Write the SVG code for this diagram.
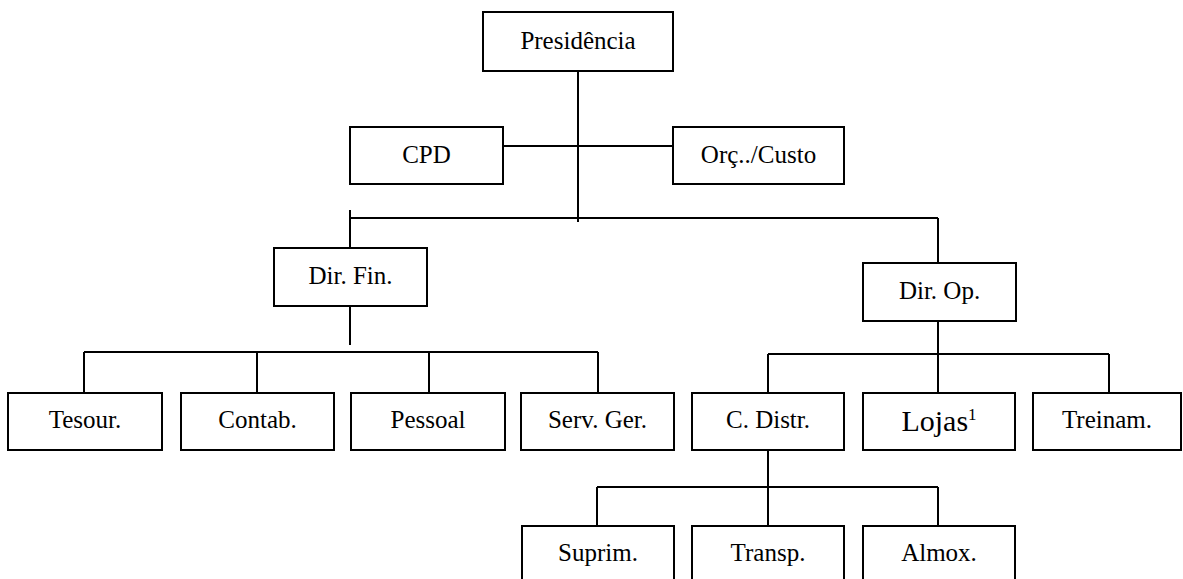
<svg xmlns="http://www.w3.org/2000/svg" width="1183" height="579" viewBox="0 0 1183 579">
<style>
.box{fill:#fff;stroke:#000;stroke-width:2}
.ln{stroke:#000;stroke-width:2;fill:none}
.t{font-family:'Liberation Serif','Times New Roman',serif;font-size:25px;fill:#000;text-anchor:middle}
</style>
<rect width="1183" height="579" fill="#fff"/>
<g id="connectors" class="ln">
<line x1="578" y1="71" x2="578" y2="222"/>
<line x1="503" y1="146" x2="673" y2="146"/>
<line x1="350" y1="218" x2="938" y2="218"/>
<line x1="350" y1="210" x2="350" y2="248"/>
<line x1="938" y1="218" x2="938" y2="263"/>
<line x1="350" y1="306" x2="350" y2="345"/>
<line x1="84" y1="352" x2="598" y2="352"/>
<line x1="84" y1="352" x2="84" y2="393"/>
<line x1="257" y1="352" x2="257" y2="393"/>
<line x1="429" y1="352" x2="429" y2="393"/>
<line x1="598" y1="352" x2="598" y2="393"/>
<line x1="938" y1="321" x2="938" y2="393"/>
<line x1="768" y1="354" x2="1109" y2="354"/>
<line x1="768" y1="354" x2="768" y2="393"/>
<line x1="1109" y1="354" x2="1109" y2="393"/>
<line x1="768" y1="450" x2="768" y2="526"/>
<line x1="597" y1="487" x2="938" y2="487"/>
<line x1="597" y1="487" x2="597" y2="526"/>
<line x1="938" y1="487" x2="938" y2="526"/>
</g>
<g id="presidencia"><rect class="box" x="483" y="12" width="190" height="59"/><text class="t" x="578" y="49">Presidência</text></g>
<g id="cpd"><rect class="box" x="350" y="127" width="153" height="57"/><text class="t" x="426.5" y="163">CPD</text></g>
<g id="orc-custo"><rect class="box" x="673" y="127" width="171" height="57"/><text class="t" x="758.5" y="163">Orç../Custo</text></g>
<g id="dir-fin"><rect class="box" x="274" y="248" width="153" height="58"/><text class="t" x="350.5" y="284">Dir. Fin.</text></g>
<g id="dir-op"><rect class="box" x="863" y="263" width="153" height="58"/><text class="t" x="939.5" y="299">Dir. Op.</text></g>
<g id="tesour"><rect class="box" x="8" y="393" width="154" height="57"/><text class="t" x="85" y="428">Tesour.</text></g>
<g id="contab"><rect class="box" x="181" y="393" width="153" height="57"/><text class="t" x="257.5" y="428">Contab.</text></g>
<g id="pessoal"><rect class="box" x="351" y="393" width="154" height="57"/><text class="t" x="428" y="428">Pessoal</text></g>
<g id="serv-ger"><rect class="box" x="521" y="393" width="153" height="57"/><text class="t" x="597.5" y="428">Serv. Ger.</text></g>
<g id="c-distr"><rect class="box" x="692" y="393" width="152" height="57"/><text class="t" x="768" y="428">C. Distr.</text></g>
<g id="lojas"><rect class="box" x="863" y="393" width="152" height="57"/><text class="t" x="939" y="431"><tspan font-size="30">Lojas</tspan><tspan font-size="17" dy="-11">1</tspan></text></g>
<g id="treinam"><rect class="box" x="1033" y="393" width="148" height="57"/><text class="t" x="1107" y="428">Treinam.</text></g>
<g id="suprim"><rect class="box" x="522" y="526" width="152" height="58"/><text class="t" x="598" y="561">Suprim.</text></g>
<g id="transp"><rect class="box" x="692" y="526" width="152" height="58"/><text class="t" x="768" y="561">Transp.</text></g>
<g id="almox"><rect class="box" x="863" y="526" width="152" height="58"/><text class="t" x="939" y="561">Almox.</text></g>
</svg>
